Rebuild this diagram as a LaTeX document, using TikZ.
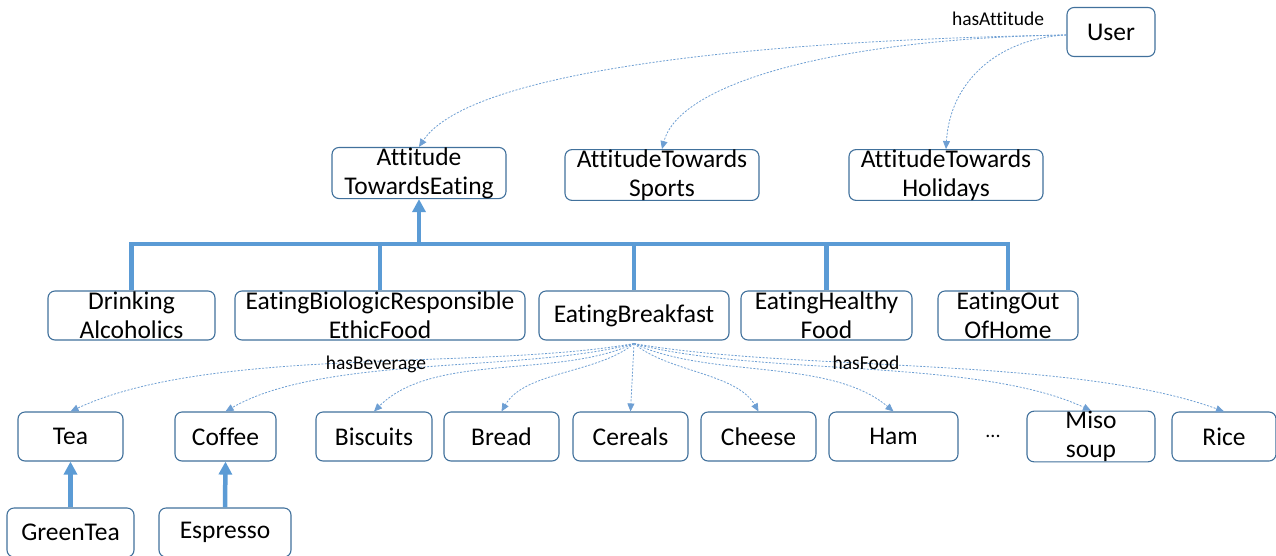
\documentclass[tikz,border=0pt]{standalone}
\usepackage{fontspec}
\setmainfont{Carlito}[Ligatures={NoCommon}]
\usetikzlibrary{arrows.meta}
\definecolor{boxline}{HTML}{41719C}
\definecolor{isa}{HTML}{5B9BD5}
\definecolor{rel}{HTML}{6E9FD3}
\tikzset{
  box/.style={draw=boxline, line width=1.1pt, rounded corners=7pt, fill=white,
    minimum height=49pt, inner xsep=2pt, inner ysep=0pt, align=center,
    font=\fontsize{25.5}{29}\selectfont},
  isaline/.style={draw=isa, line width=4.5pt},
  isaarrow/.style={isaline, -{Triangle[width=13pt,length=13pt]}},
  relarrow/.style={draw=rel, line width=0.8pt, dash pattern=on 2pt off 1.5pt,
    -{Triangle[width=7pt,length=8pt]}},
  rellabel/.style={font=\fontsize{19.5}{22}\selectfont, inner sep=0pt},
}
\begin{document}
\begin{tikzpicture}[x=1pt,y=1pt]
\useasboundingbox (0,0) rectangle (1276,-555);

% top level
\node[box, minimum width=88pt] (user) at (1111,-32) {User};
\node[box, minimum width=174pt] (ate) at (419,-173) {Attitude\\TowardsEating};
\node[box, minimum width=194pt] (ats) at (662,-175) {AttitudeTowards\\Sports};
\node[box, minimum width=194pt] (ath) at (946,-175) {AttitudeTowards\\Holidays};

% kinds of eating attitude
\node[box, minimum width=167pt] (drink) at (131.5,-315.5) {Drinking\\Alcoholics};
\node[box, minimum width=290pt] (bio) at (380,-315.5) {EatingBiologicResponsible\\EthicFood};
\node[box, minimum width=190pt] (bkf) at (634,-315.5) {EatingBreakfast};
\node[box, minimum width=171pt] (healthy) at (826.5,-315.5) {EatingHealthy\\Food};
\node[box, minimum width=140pt] (out) at (1008,-315.5) {EatingOut\\OfHome};

% beverages and foods
\node[box, minimum width=105pt] (tea) at (70.5,-436.5) {Tea};
\node[box, minimum width=101pt] (coffee) at (225.5,-436.5) {Coffee};
\node[box, minimum width=116pt] (biscuits) at (374,-436.5) {Biscuits};
\node[box, minimum width=115pt] (bread) at (501.5,-436.5) {Bread};
\node[box, minimum width=115pt] (cereals) at (630.5,-436.5) {Cereals};
\node[box, minimum width=115pt] (cheese) at (758.5,-436.5) {Cheese};
\node[box, minimum width=129pt] (ham) at (893.5,-436.5) {Ham};
\node[font=\fontsize{20}{24}\selectfont] (dots) at (993,-436) {...};
\node[box, minimum width=128pt] (miso) at (1091,-436.5) {Miso\\soup};
\node[box, minimum width=104pt] (rice) at (1224,-436.5) {Rice};

\node[box, minimum width=127pt] (greentea) at (70.5,-532.5) {GreenTea};
\node[box, minimum width=132pt] (espresso) at (225,-532.5) {Espresso};

% subclass tree
\coordinate (bar) at (419,-244);
\draw[isaline] (drink.north) |- (bar) -| (out.north);
\draw[isaline] (bio.north) -- (bio.north |- bar);
\draw[isaline] (bkf.north) -- (bkf.north |- bar);
\draw[isaline] (healthy.north) -- (healthy.north |- bar);
\draw[isaarrow] (bar) -- (ate.south);
\draw[isaarrow] (greentea.north) -- (tea.south);
\draw[isaarrow] (espresso.north) -- (coffee.south);

% hasAttitude
\coordinate (ua) at ([yshift=-3pt]user.west);
\draw[relarrow] (ua) .. controls (760,-40) and (470,-70) .. (ate.north);
\draw[relarrow] (ua) .. controls (850,-38) and (680,-80) .. (ats.north);
\draw[relarrow] (ua) .. controls (1000,-38) and (950,-80) .. (ath.north);
\node[rellabel] (lhasatt) at (998,-19) {hasAttitude};

% hasBeverage / hasFood
\coordinate (eb) at ([yshift=-3pt]bkf.south);
\draw[relarrow] (eb) to[out=190, in=25, looseness=0.7] (tea.north);
\draw[relarrow] (eb) to[out=195, in=30, looseness=0.7] (coffee.north);
\draw[relarrow] (eb) to[out=205, in=45, looseness=0.8] (biscuits.north);
\draw[relarrow] (eb) to[out=220, in=60, looseness=0.8] (bread.north);
\draw[relarrow] (eb) -- (cereals.north);
\draw[relarrow] (eb) to[out=320, in=120, looseness=0.8] (cheese.north);
\draw[relarrow] (eb) to[out=335, in=140, looseness=0.8] (ham.north);
\draw[relarrow] (eb) to[out=345, in=155, looseness=0.7] (miso.north);
\draw[relarrow] (eb) to[out=350, in=160, looseness=0.7] (rice.north);
\node[rellabel] (lhasbev) at (376,-364) {hasBeverage};
\node[rellabel] (lhasfood) at (866,-363) {hasFood};
\end{tikzpicture}
\end{document}
